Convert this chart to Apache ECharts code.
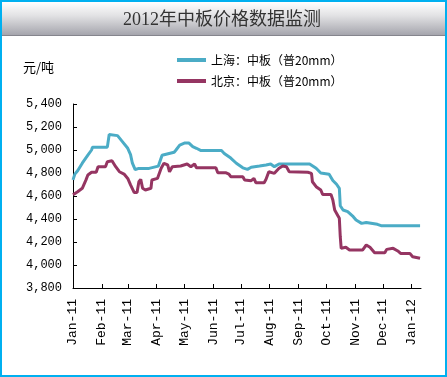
<!DOCTYPE html>
<html>
<head>
<meta charset="utf-8">
<script src="https://cdn.jsdelivr.net/npm/echarts@6/dist/echarts.min.js"></script>
<style>
  body { margin: 0; background: #fff; }
  #chart { width: 447px; height: 377px; }
</style>
</head>
<body>
<div id="chart"></div>
<script>
// 月份刻度
var monthTicks = ['2011-01-01', '2011-02-01', '2011-03-01', '2011-04-01', '2011-05-01', '2011-06-01',
  '2011-07-01', '2011-08-01', '2011-09-01', '2011-10-01', '2011-11-01', '2011-12-01', '2012-01-01'];
var monthNames = ['Jan', 'Feb', 'Mar', 'Apr', 'May', 'Jun', 'Jul', 'Aug', 'Sep', 'Oct', 'Nov', 'Dec'];

// 上海：中板（普20mm）
var shDates = ['2011-01-01', '2011-01-03', '2011-01-06', '2011-01-11', '2011-01-17', '2011-01-21', '2011-01-22',
  '2011-02-07', '2011-02-09', '2011-02-18', '2011-02-20', '2011-02-23', '2011-03-01', '2011-03-04', '2011-03-06',
  '2011-03-09', '2011-03-13', '2011-03-24', '2011-03-26', '2011-04-03', '2011-04-07', '2011-04-09', '2011-04-20',
  '2011-04-22', '2011-04-26', '2011-05-01', '2011-05-06', '2011-05-10', '2011-05-14', '2011-05-19', '2011-06-10',
  '2011-06-13', '2011-06-20', '2011-06-26', '2011-07-03', '2011-07-08', '2011-07-12', '2011-07-21', '2011-07-28',
  '2011-08-02', '2011-08-06', '2011-08-11', '2011-09-13', '2011-09-20', '2011-09-25', '2011-10-04', '2011-10-08',
  '2011-10-12', '2011-10-15', '2011-10-16', '2011-10-19', '2011-10-24', '2011-10-30', '2011-11-02', '2011-11-08',
  '2011-11-13', '2011-11-25', '2011-11-29', '2012-01-10'];
var shValues = [4740, 4790, 4820, 4885, 4955, 5000, 5025,
  5025, 5135, 5125, 5115, 5075, 5015, 4960, 4885,
  4830, 4840, 4840, 4855, 4860, 4955, 4970, 4980,
  5000, 5043, 5060, 5060, 5030, 5015, 4995, 4995,
  4970, 4930, 4885, 4845, 4832, 4850, 4860, 4870,
  4878, 4855, 4878, 4878, 4841, 4800, 4790, 4735,
  4702, 4667, 4515, 4478, 4464, 4420, 4391, 4362,
  4370, 4354, 4342, 4342];

// 北京：中板（普20mm）
var bjDates = ['2011-01-01', '2011-01-06', '2011-01-11', '2011-01-15', '2011-01-17', '2011-01-21', '2011-01-26',
  '2011-01-28', '2011-02-05', '2011-02-07', '2011-02-12', '2011-02-16', '2011-02-20', '2011-02-25', '2011-03-01',
  '2011-03-04', '2011-03-08', '2011-03-11', '2011-03-13', '2011-03-15', '2011-03-17', '2011-03-20', '2011-03-26',
  '2011-03-27', '2011-04-02', '2011-04-06', '2011-04-09', '2011-04-13', '2011-04-15', '2011-04-18', '2011-04-27',
  '2011-05-04', '2011-05-08', '2011-05-12', '2011-05-14', '2011-06-04', '2011-06-06', '2011-06-15', '2011-06-18',
  '2011-06-20', '2011-07-03', '2011-07-05', '2011-07-12', '2011-07-15', '2011-07-17', '2011-07-26', '2011-07-28',
  '2011-07-31', '2011-08-02', '2011-08-06', '2011-08-08', '2011-08-11', '2011-08-15', '2011-08-19', '2011-08-22',
  '2011-09-11', '2011-09-15', '2011-09-16', '2011-09-20', '2011-09-25', '2011-09-27', '2011-10-06', '2011-10-08',
  '2011-10-10', '2011-10-13', '2011-10-15', '2011-10-16', '2011-10-17', '2011-10-19', '2011-10-22', '2011-10-26',
  '2011-11-09', '2011-11-13', '2011-11-17', '2011-11-22', '2011-12-03', '2011-12-05', '2011-12-12', '2011-12-17',
  '2011-12-20', '2011-12-30', '2012-01-02', '2012-01-10'];
var bjValues = [4610, 4637, 4667, 4740, 4783, 4806, 4806,
  4855, 4855, 4898, 4907, 4855, 4811, 4791, 4753,
  4696, 4630, 4630, 4724, 4745, 4667, 4652, 4667,
  4739, 4753, 4841, 4884, 4870, 4811, 4855, 4861,
  4878, 4855, 4878, 4846, 4846, 4802, 4802, 4791,
  4768, 4768, 4739, 4733, 4753, 4716, 4716, 4745,
  4811, 4826, 4797, 4800, 4841, 4861, 4855, 4811,
  4806, 4797, 4724, 4681, 4652, 4614, 4614, 4565,
  4478, 4435, 4406, 4246, 4145, 4136, 4154, 4130,
  4130, 4174, 4154, 4107, 4107, 4136, 4145, 4122,
  4101, 4101, 4072, 4058];

var seriesNames = ['上海：中板（普20mm）', '北京：中板（普20mm）'];

// 日期 -> 距 2011-01-01 的天数
function dayOf(s) {
  var p = s.split('-').map(Number);
  return Math.round((Date.UTC(p[0], p[1] - 1, p[2]) - Date.UTC(2011, 0, 1)) / 86400000);
}
function pairs(dates, values) {
  return dates.map(function (d, i) { return [dayOf(d), values[i]]; });
}
var tickDays = monthTicks.map(dayOf);

var chart = echarts.init(document.getElementById('chart'));

var option = {
  animation: false,
  backgroundColor: '#fff',
  grid: { left: 73, right: 26, top: 104, bottom: 89 },
  legend: {
    data: seriesNames,
    orient: 'vertical',
    left: 172,
    top: 49,
    itemWidth: 29,
    itemHeight: 4,
    itemGap: 9,
    icon: 'rect',
    textStyle: { color: '#000', fontSize: 12, fontFamily: 'Noto Sans CJK SC' }
  },
  xAxis: {
    type: 'value',
    min: 0,
    max: dayOf('2012-01-11'),
    axisLine: { lineStyle: { color: '#000', width: 1 } },
    axisTick: { inside: true, length: 4, customValues: tickDays, lineStyle: { color: '#000' } },
    splitLine: { show: false },
    axisLabel: {
      customValues: tickDays,
      rotate: 90,
      margin: 11,
      color: '#000',
      fontSize: 13,
      fontFamily: 'Liberation Mono',
      formatter: function (val) {
        var i = tickDays.indexOf(val);
        var p = monthTicks[i].split('-');
        return monthNames[Number(p[1]) - 1] + '-' + p[0].slice(2);
      }
    }
  },
  yAxis: {
    type: 'value',
    min: 3800,
    max: 5400,
    interval: 200,
    axisLine: { show: true, lineStyle: { color: '#000', width: 1 } },
    axisTick: { show: true, inside: true, length: 4, lineStyle: { color: '#000' } },
    splitLine: { show: false },
    axisLabel: {
      margin: 11,
      color: '#000',
      fontSize: 12,
      fontFamily: 'Liberation Mono',
      formatter: function (v) {
        return String(v).replace(/\B(?=(\d{3})+(?!\d))/g, ',');
      }
    }
  },
  series: [
    {
      name: seriesNames[0],
      type: 'line',
      data: pairs(shDates, shValues),
      showSymbol: false,
      color: '#4BACC6',
      lineStyle: { width: 3 }
    },
    {
      name: seriesNames[1],
      type: 'line',
      data: pairs(bjDates, bjValues),
      showSymbol: false,
      color: '#953562',
      lineStyle: { width: 3 }
    }
  ],
  graphic: {
    elements: [
      {
        type: 'rect',
        shape: { x: 2, y: 2, width: 443, height: 34 },
        style: {
          fill: new echarts.graphic.LinearGradient(0, 0, 0, 1, [
            { offset: 0, color: '#ffffff' },
            { offset: 0.4, color: '#e2e2e4' },
            { offset: 1, color: '#a2a2aa' }
          ])
        },
        silent: true
      },
      {
        type: 'rect',
        shape: { x: 2, y: 35, width: 443, height: 1 },
        style: { fill: '#85858d' },
        silent: true
      },
      {
        type: 'text',
        x: 222,
        y: 20,
        style: {
          text: '2012年中板价格数据监测',
          fill: '#333',
          font: '18px "Liberation Serif", "Noto Sans CJK SC"',
          align: 'center',
          verticalAlign: 'middle'
        }
      },
      {
        type: 'text',
        x: 23,
        y: 67,
        style: {
          text: '元/吨',
          fill: '#000',
          font: '13px "Noto Sans CJK SC"',
          align: 'left',
          verticalAlign: 'middle'
        }
      },
      {
        type: 'rect',
        shape: { x: 1, y: 1, width: 445, height: 375 },
        style: { fill: 'none', stroke: '#00B0F0', lineWidth: 2 },
        silent: true
      }
    ]
  }
};

chart.setOption(option);
window.addEventListener('resize', function () {
  chart.resize();
});
</script>
</body>
</html>
